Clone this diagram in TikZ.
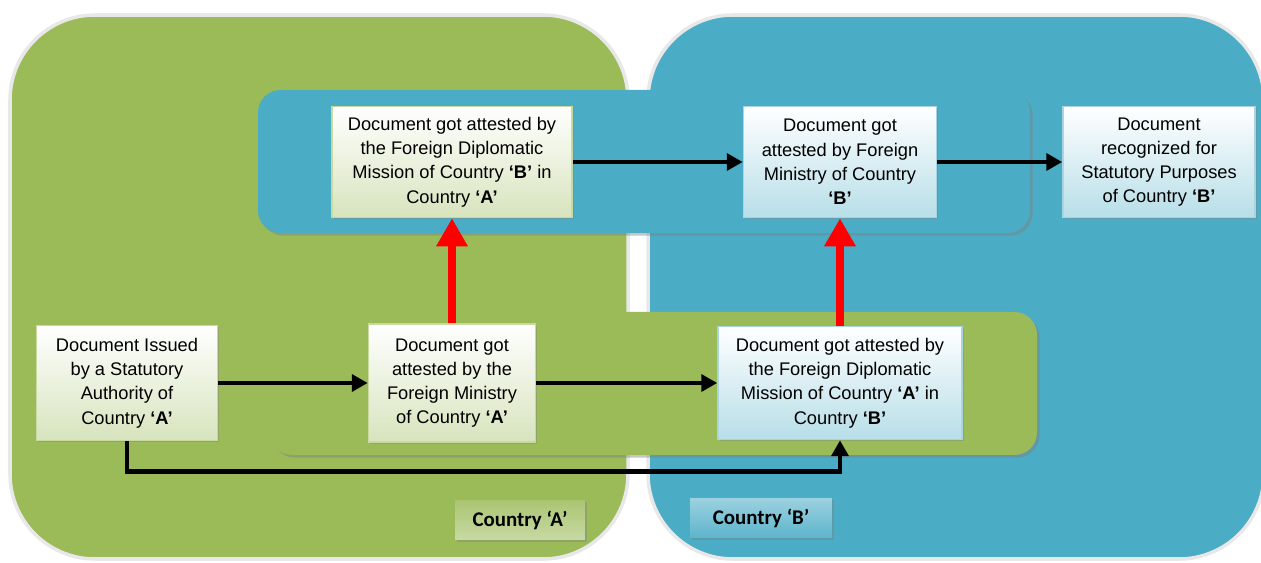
\documentclass[tikz,border=0pt]{standalone}
\usepackage{fontspec}
\setmainfont{Liberation Sans}
\newfontfamily\tagfont{Carlito}
\usetikzlibrary{arrows.meta,shadows,positioning}

\definecolor{greenA}{RGB}{155,187,89}
\definecolor{blueB}{RGB}{75,172,198}
\definecolor{lineA}{RGB}{200,218,160}
\definecolor{fillA}{RGB}{215,228,189}
\definecolor{lineB}{RGB}{170,212,226}
\definecolor{fillB}{RGB}{183,222,232}
\definecolor{edge}{RGB}{232,232,232}

\begin{document}
\begin{tikzpicture}[x=0.02cm,y=-0.02cm,
    region/.style={draw=edge,line width=2pt,rounded corners=1.7cm},
    band/.style={rounded corners=0.45cm,drop shadow={shadow xshift=1.5pt,shadow yshift=-1.5pt,opacity=0.45}},
    docA/.style={draw=lineA,line width=0.9pt,top color=white,bottom color=fillA,align=center,
        font=\fontsize{10.4}{13.8}\selectfont,inner sep=1pt,
        drop shadow={shadow xshift=1pt,shadow yshift=-1pt,opacity=0.35}},
    docB/.style={docA,draw=lineB,bottom color=fillB},
    tagA/.style={top color=greenA!85!white,bottom color=greenA!55!white,font=\tagfont\bfseries\fontsize{11.9}{13}\selectfont,
        minimum width=2.6cm,minimum height=0.8cm,
        drop shadow={shadow xshift=1pt,shadow yshift=-1pt,opacity=0.4}},
    tagB/.style={tagA,top color=blueB!55!white,bottom color=blueB!90!white},
    flow/.style={line width=2.6pt,-{Triangle[length=9pt,width=9.5pt]}},
    lift/.style={red,line width=5pt,-{Triangle[length=16pt,width=17pt]}}]

  \useasboundingbox (0,0) rectangle (1261,563);

  % the two countries
  \draw[region,fill=greenA] (10,15) rectangle (628,559);
  \draw[region,fill=blueB] (648,15) rectangle (1264,559);

  % bands
  \fill[band,blueB] (258,90) rectangle (1030,233);
  \fill[band,greenA] (270,312) rectangle (1037,455);

  % documents
  \node[docA,minimum width=4.8cm,minimum height=2.22cm] (fdmB) at (452,162)
    {Document got attested by\\the Foreign Diplomatic\\Mission of Country \textbf{‘B’} in\\Country \textbf{‘A’}};
  \node[docB,minimum width=3.86cm,minimum height=2.22cm] (fmB) at (840,162)
    {Document got\\attested by Foreign\\Ministry of Country\\\textbf{‘B’}};
  \node[docB,minimum width=3.84cm,minimum height=2.22cm] (rec) at (1159,162)
    {Document\\recognized for\\Statutory Purposes\\of Country \textbf{‘B’}};
  \node[docA,minimum width=3.62cm,minimum height=2.3cm] (iss) at (127,383)
    {Document Issued\\by a Statutory\\Authority of\\Country \textbf{‘A’}};
  \node[docA,minimum width=3.34cm,minimum height=2.36cm] (fmA) at (452,383)
    {Document got\\attested by the\\Foreign Ministry\\of Country \textbf{‘A’}};
  \node[docB,minimum width=4.88cm,minimum height=2.26cm] (fdmA) at (840,383)
    {Document got attested by\\the Foreign Diplomatic\\Mission of Country \textbf{‘A’} in\\Country \textbf{‘B’}};

  % country tags
  \node[tagA] (tagA) at (520,520) {Country ‘A’};
  \node[tagB,minimum width=2.84cm] (tagB) at (761,518) {Country ‘B’};

  % connectors
  \draw[flow] (iss.east) -- (fmA.west);
  \draw[flow] (fmA.east) -- (fdmA.west);
  \draw[flow] (fdmB.east) -- (fmB.west);
  \draw[flow] (fmB.east) -- (rec.west);
  \draw[flow] (iss.south) -- ++(0,30) -| (fdmA.south);
  \draw[lift] (fmA.north) -- (fdmB.south);
  \draw[lift] (fdmA.north) -- (fmB.south);
\end{tikzpicture}
\end{document}
